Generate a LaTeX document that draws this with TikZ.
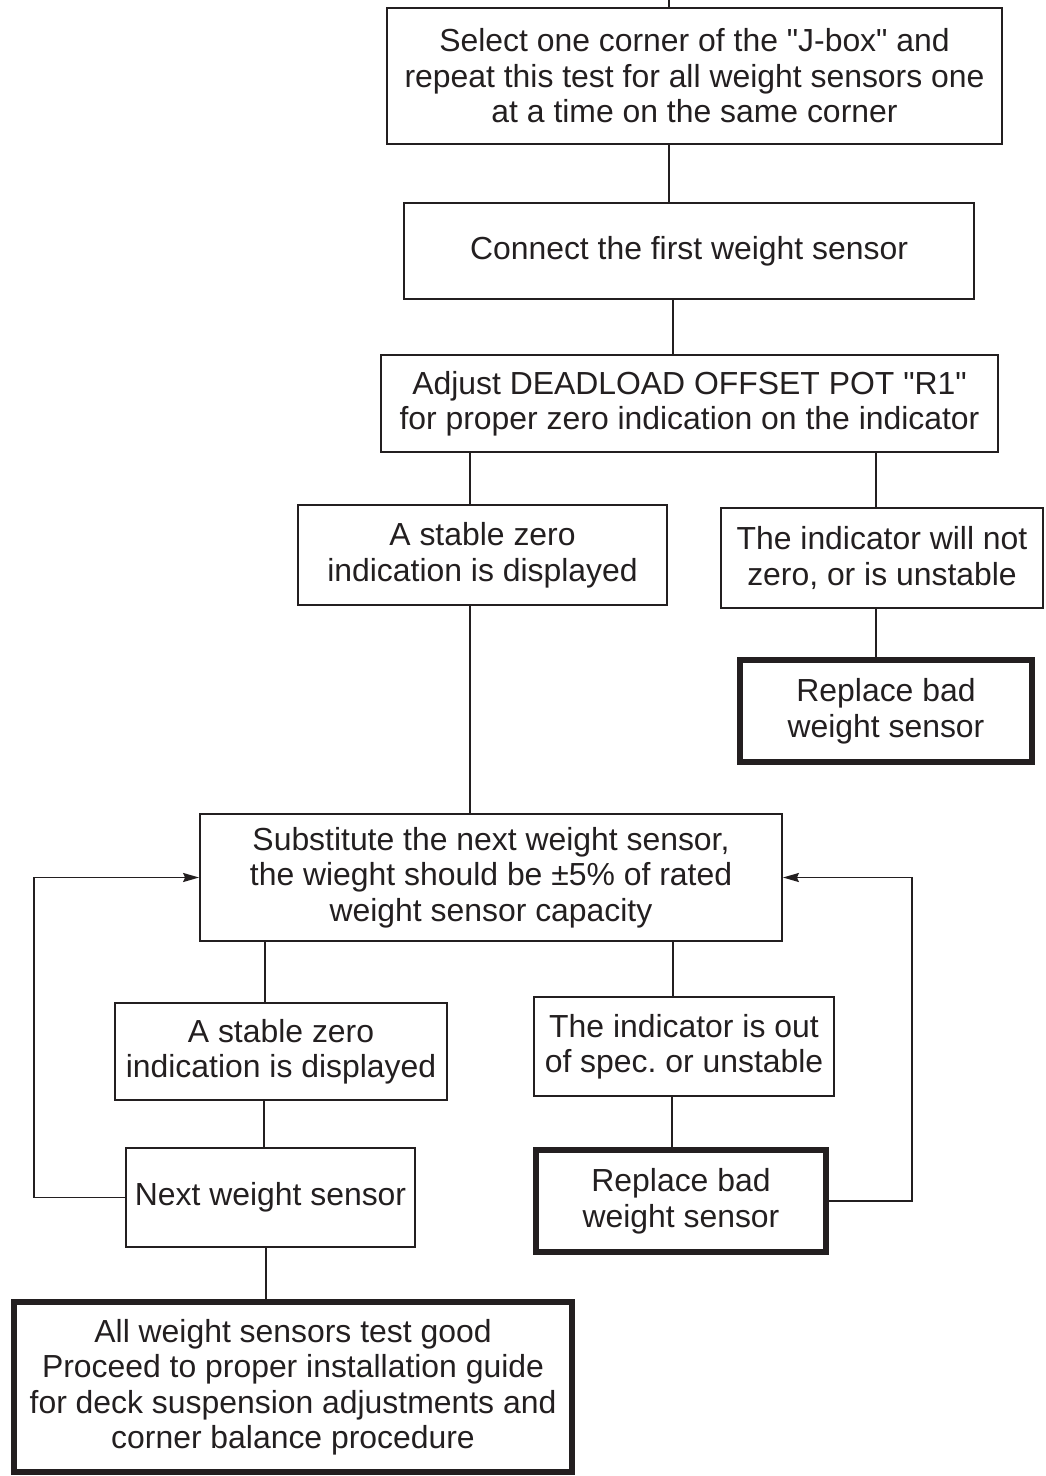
\documentclass[tikz,border=0pt]{standalone}
\usepackage{fontspec}
\setmainfont{Liberation Sans}
\usetikzlibrary{arrows.meta}
\definecolor{ink}{HTML}{231F20}
\frenchspacing
\begin{document}
\begin{tikzpicture}[x=1pt,y=-1pt,
  every node/.style={text=ink},
  box/.style={draw=ink,line width=1.8pt,inner sep=0pt,align=center,
    font=\fontsize{31.9}{35.5}\selectfont},
  endbox/.style={box,line width=6.5pt},
  conn/.style={draw=ink,line width=1.8pt},
  arr/.style={conn,-{Stealth[length=16pt,width=9pt,inset=2pt]}}]
\useasboundingbox (0,0) rectangle (1045,1476);
\node[box,minimum width=615,minimum height=136] (top) at (694.5,76)
  {Select one corner of the \textquotedbl J-box\textquotedbl{} and\\repeat this test for all weight sensors one\\at a time on the same corner};
\node[box,minimum width=570,minimum height=96] (first) at (689,251)
  {Connect the first weight sensor};
\node[box,minimum width=617,minimum height=97] (adjust) at (689.5,403.5)
  {Adjust DEADLOAD OFFSET POT \textquotedbl R1\textquotedbl\\for proper zero indication on the indicator};
\node[box,minimum width=369,minimum height=100] (stableA) at (482.5,555)
  {A stable zero\\indication is displayed};
\node[box,minimum width=322,minimum height=100] (notzero) at (882,558)
  {The indicator will not\\zero, or is unstable};
\node[endbox,minimum width=292,minimum height=102] (repA) at (886,711)
  {Replace bad\\weight sensor};
\node[box,minimum width=582,minimum height=127] (sub) at (491,877.5)
  {Substitute the next weight sensor,\\the wieght should be ±5\% of rated\\weight sensor capacity};
\node[box,minimum width=332,minimum height=97] (stableB) at (281,1051.5)
  {A stable zero\\indication is displayed};
\node[box,minimum width=300,minimum height=99] (outspec) at (684,1046.5)
  {The indicator is out\\of spec. or unstable};
\node[box,minimum width=289,minimum height=99] (next) at (270.5,1197.5)
  {Next weight sensor};
\node[endbox,minimum width=290,minimum height=102] (repB) at (681,1201)
  {Replace bad\\weight sensor};
\node[endbox,minimum width=558,minimum height=170] (final) at (293,1387)
  {All weight sensors test good\\Proceed to proper installation guide\\for deck suspension adjustments and\\corner balance procedure};
\coordinate (entry) at (669,0);
\draw[conn] (entry) -- (entry |- top.north);
\draw[conn] (669,0 |- top.south) -- (669,0 |- first.north);
\draw[conn] (673,0 |- first.south) -- (673,0 |- adjust.north);
\draw[conn] (470,0 |- adjust.south) -- (470,0 |- stableA.north);
\draw[conn] (876,0 |- adjust.south) -- (876,0 |- notzero.north);
\draw[conn] (876,0 |- notzero.south) -- (876,0 |- repA.north);
\draw[conn] (470,0 |- stableA.south) -- (470,0 |- sub.north);
\draw[conn] (265,0 |- sub.south) -- (265,0 |- stableB.north);
\draw[conn] (673,0 |- sub.south) -- (673,0 |- outspec.north);
\draw[conn] (264,0 |- stableB.south) -- (264,0 |- next.north);
\draw[conn] (672,0 |- outspec.south) -- (672,0 |- repB.north);
\draw[conn] (266,0 |- next.south) -- (266,0 |- final.north);
\draw[arr] (next.west) -- (next.west -| 34,0) -- (34,0 |- sub.west) -- (sub.west);
\draw[arr] (repB.east) -- (repB.east -| 912,0) -- (912,0 |- sub.east) -- (sub.east);
\end{tikzpicture}
\end{document}
